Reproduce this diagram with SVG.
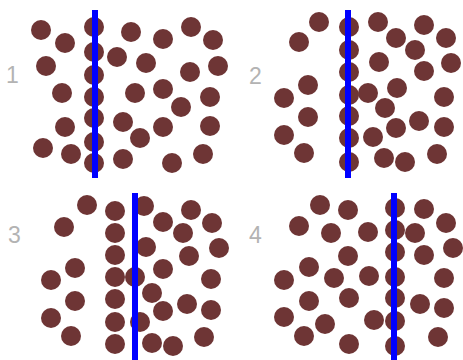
<svg xmlns="http://www.w3.org/2000/svg" width="463" height="360" viewBox="0 0 463 360">
<style>
.c{fill:#6e3535}
.l{stroke:#0000ff;stroke-width:6}
.t{font-family:"Liberation Sans",Arial,sans-serif;font-size:23px;fill:#b3b3b3}
</style>
<defs><circle id="p" r="10" class="c"/></defs>
<rect width="463" height="360" fill="#fff"/>
<g id="panel1">
<use href="#p" x="41" y="30"/><use href="#p" x="65" y="43"/><use href="#p" x="94" y="27"/><use href="#p" x="131" y="32"/><use href="#p" x="163" y="39"/><use href="#p" x="191" y="27"/><use href="#p" x="213" y="40"/><use href="#p" x="94" y="52"/><use href="#p" x="117" y="57"/><use href="#p" x="46" y="66"/><use href="#p" x="146" y="63"/><use href="#p" x="190" y="72"/><use href="#p" x="218" y="66"/><use href="#p" x="94" y="75"/><use href="#p" x="62" y="93"/><use href="#p" x="135" y="93"/><use href="#p" x="163" y="89"/><use href="#p" x="210" y="97"/><use href="#p" x="94" y="97"/><use href="#p" x="181" y="107"/><use href="#p" x="94" y="118"/><use href="#p" x="65" y="127"/><use href="#p" x="123" y="122"/><use href="#p" x="163" y="127"/><use href="#p" x="210" y="126"/><use href="#p" x="140" y="138"/><use href="#p" x="94" y="142"/><use href="#p" x="43" y="148"/><use href="#p" x="71" y="154"/><use href="#p" x="123" y="159"/><use href="#p" x="94" y="163"/><use href="#p" x="172" y="163"/><use href="#p" x="203" y="154"/>
<line class="l" x1="95" y1="10" x2="95" y2="178"/>
<text class="t" x="6" y="83">1</text>
</g>
<g id="panel2">
<use href="#p" x="319" y="22"/><use href="#p" x="349" y="27"/><use href="#p" x="378" y="22"/><use href="#p" x="424" y="25"/><use href="#p" x="396" y="38"/><use href="#p" x="446" y="38"/><use href="#p" x="299" y="42"/><use href="#p" x="349" y="50"/><use href="#p" x="415" y="50"/><use href="#p" x="379" y="62"/><use href="#p" x="451" y="63"/><use href="#p" x="424" y="71"/><use href="#p" x="349" y="72"/><use href="#p" x="308" y="85"/><use href="#p" x="284" y="98"/><use href="#p" x="349" y="95"/><use href="#p" x="368" y="93"/><use href="#p" x="397" y="88"/><use href="#p" x="444" y="97"/><use href="#p" x="385" y="108"/><use href="#p" x="308" y="117"/><use href="#p" x="349" y="116"/><use href="#p" x="419" y="121"/><use href="#p" x="396" y="128"/><use href="#p" x="444" y="127"/><use href="#p" x="284" y="135"/><use href="#p" x="373" y="137"/><use href="#p" x="349" y="138"/><use href="#p" x="304" y="153"/><use href="#p" x="384" y="158"/><use href="#p" x="405" y="162"/><use href="#p" x="437" y="154"/><use href="#p" x="349" y="162"/>
<line class="l" x1="348" y1="10" x2="348" y2="178"/>
<text class="t" x="249" y="84">2</text>
</g>
<g id="panel3">
<use href="#p" x="87" y="205"/><use href="#p" x="115" y="211"/><use href="#p" x="144" y="206"/><use href="#p" x="191" y="210"/><use href="#p" x="64" y="227"/><use href="#p" x="163" y="222"/><use href="#p" x="212" y="223"/><use href="#p" x="115" y="233"/><use href="#p" x="183" y="233"/><use href="#p" x="146" y="247"/><use href="#p" x="219" y="248"/><use href="#p" x="189" y="256"/><use href="#p" x="115" y="255"/><use href="#p" x="75" y="268"/><use href="#p" x="51" y="280"/><use href="#p" x="115" y="277"/><use href="#p" x="135" y="277"/><use href="#p" x="163" y="269"/><use href="#p" x="211" y="279"/><use href="#p" x="152" y="293"/><use href="#p" x="75" y="301"/><use href="#p" x="115" y="299"/><use href="#p" x="187" y="304"/><use href="#p" x="163" y="311"/><use href="#p" x="211" y="310"/><use href="#p" x="51" y="318"/><use href="#p" x="140" y="322"/><use href="#p" x="115" y="322"/><use href="#p" x="71" y="336"/><use href="#p" x="152" y="343"/><use href="#p" x="173" y="346"/><use href="#p" x="204" y="337"/><use href="#p" x="115" y="344"/>
<line class="l" x1="135" y1="193" x2="135" y2="360"/>
<text class="t" x="8" y="243">3</text>
</g>
<g id="panel4">
<use href="#p" x="320" y="205"/><use href="#p" x="348" y="210"/><use href="#p" x="395" y="208"/><use href="#p" x="424" y="209"/><use href="#p" x="299" y="226"/><use href="#p" x="331" y="233"/><use href="#p" x="368" y="232"/><use href="#p" x="395" y="230"/><use href="#p" x="415" y="233"/><use href="#p" x="446" y="223"/><use href="#p" x="348" y="256"/><use href="#p" x="395" y="252"/><use href="#p" x="424" y="255"/><use href="#p" x="453" y="248"/><use href="#p" x="309" y="267"/><use href="#p" x="284" y="280"/><use href="#p" x="334" y="278"/><use href="#p" x="369" y="276"/><use href="#p" x="395" y="277"/><use href="#p" x="444" y="278"/><use href="#p" x="309" y="301"/><use href="#p" x="349" y="298"/><use href="#p" x="395" y="298"/><use href="#p" x="420" y="304"/><use href="#p" x="444" y="308"/><use href="#p" x="284" y="317"/><use href="#p" x="325" y="324"/><use href="#p" x="374" y="320"/><use href="#p" x="395" y="321"/><use href="#p" x="304" y="336"/><use href="#p" x="349" y="344"/><use href="#p" x="395" y="346"/><use href="#p" x="438" y="337"/>
<line class="l" x1="394" y1="193" x2="394" y2="360"/>
<text class="t" x="249" y="243">4</text>
</g>
</svg>
